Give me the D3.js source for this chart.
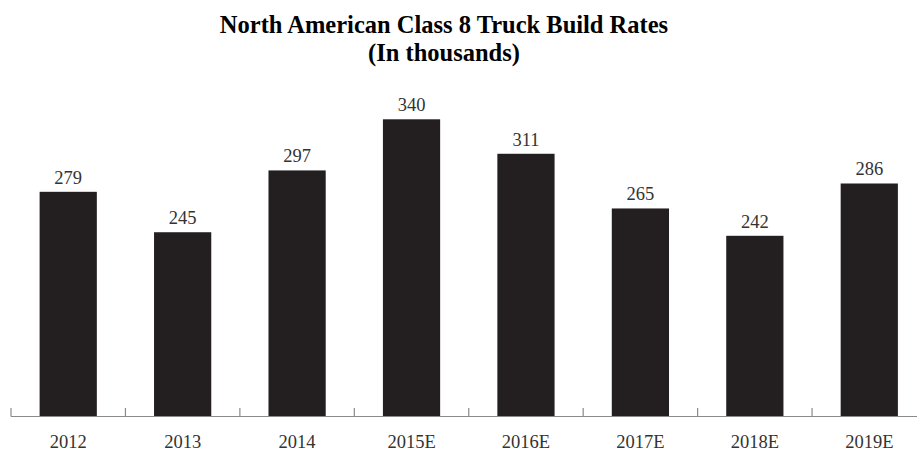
<!DOCTYPE html>
<html><head><meta charset="utf-8">
<script src="https://cdn.jsdelivr.net/npm/d3@7"></script>
<style>body{margin:0;background:#fff}svg{display:block}</style>
</head><body>
<script>
const categories = ["2012","2013","2014","2015E","2016E","2017E","2018E","2019E"];
const values = [279,245,297,340,311,265,242,286];
const titleLines = ["North American Class 8 Truck Build Rates","(In thousands)"];

const W = 917, H = 450;
const svg = d3.select("body").append("svg").attr("width",W).attr("height",H);

const x = d3.scaleBand().domain(categories).range([11, 926.5]).paddingInner(0.5).paddingOuter(0.25);
const y = d3.scaleLinear().domain([90, 340]).range([416.5, 119.3]);

svg.selectAll("rect.bar").data(values).enter().append("rect")
  .attr("x",(d,i)=>x(categories[i]))
  .attr("width",x.bandwidth())
  .attr("y",d=>y(d))
  .attr("height",d=>y(90)-y(d))
  .attr("fill","#231f20");

// axis baseline and ticks at band boundaries
const g = svg.append("g");
g.append("line").attr("x1",11).attr("x2",W).attr("y1",416.5).attr("y2",416.5)
  .attr("stroke","#8a8a8a").attr("stroke-width",1.2);
g.selectAll("line.tk").data(categories).enter().append("line")
  .attr("x1",d=>x(d)-x.step()*0.25).attr("x2",d=>x(d)-x.step()*0.25)
  .attr("y1",416.5).attr("y2",408)
  .attr("stroke","#8a8a8a").attr("stroke-width",1.2);

g.selectAll("text.cat").data(categories).enter().append("text")
  .attr("x",d=>x(d)+x.bandwidth()/2).attr("y",447.5)
  .attr("text-anchor","middle")
  .attr("font-family","'Liberation Serif','Times New Roman',serif")
  .attr("font-size",18.5).attr("fill","#333")
  .text(d=>d);

svg.selectAll("text.val").data(values).enter().append("text")
  .attr("x",(d,i)=>x(categories[i])+x.bandwidth()/2).attr("y",d=>y(d)-8)
  .attr("text-anchor","middle")
  .attr("font-family","'Liberation Serif','Times New Roman',serif")
  .attr("font-size",18.5).attr("fill","#333")
  .text(d=>d);

svg.selectAll("text.title").data(titleLines).enter().append("text")
  .attr("x",444).attr("y",(d,i)=>33+i*28)
  .attr("text-anchor","middle")
  .attr("font-family","'Liberation Serif','Times New Roman',serif")
  .attr("font-weight","bold").attr("font-size",24.5).attr("fill","#000")
  .text(d=>d);
</script>
</body></html>
